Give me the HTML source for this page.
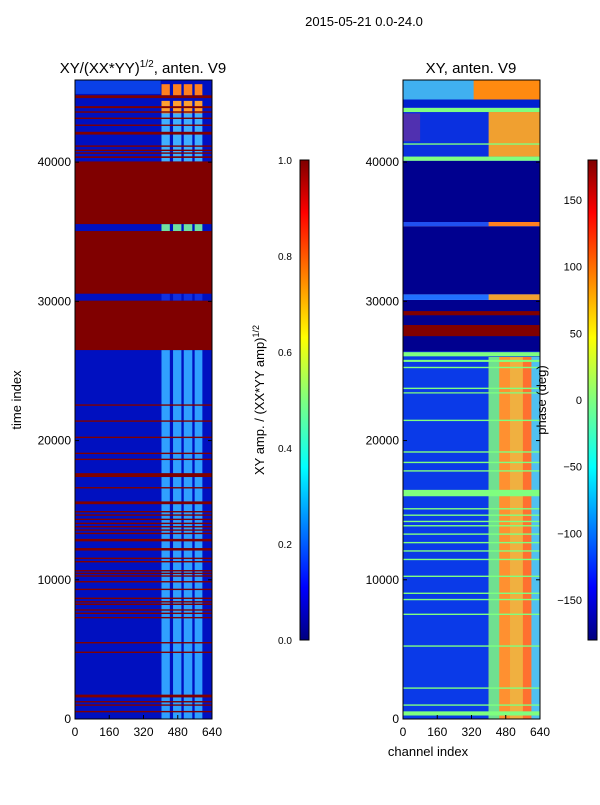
<!DOCTYPE html>
<html><head><meta charset="utf-8"><style>
body{margin:0;background:#fff;font-family:"Liberation Sans",sans-serif;}
svg text{font-family:"Liberation Sans",sans-serif;fill:#000;}
</style></head><body>
<svg id="fig" width="600" height="800" xmlns="http://www.w3.org/2000/svg">
<defs>
<linearGradient id="jet" x1="0" y1="1" x2="0" y2="0">
<stop offset="0" stop-color="#00007f"/><stop offset="0.11" stop-color="#0000ff"/>
<stop offset="0.36" stop-color="#00ffff"/><stop offset="0.5" stop-color="#7fff7f"/>
<stop offset="0.63" stop-color="#ffff00"/><stop offset="0.89" stop-color="#ff0000"/>
<stop offset="1" stop-color="#7f0000"/></linearGradient>
</defs>
<text x="364" y="26" font-size="13" text-anchor="middle">2015-05-21 0.0-24.0</text>
<text x="143" y="73" font-size="15" text-anchor="middle">XY/(XX*YY)<tspan font-size="10" dy="-6">1/2</tspan><tspan dy="6">, anten. V9</tspan></text>
<text x="471" y="73" font-size="15" text-anchor="middle">XY, anten. V9</text>
<g id="left"></g>
<g id="right"></g>
<g id="axes"></g>
<text transform="translate(21,400) rotate(-90)" font-size="13" text-anchor="middle">time index</text>
<text x="428" y="756" font-size="13" text-anchor="middle">channel index</text>
<text transform="translate(264,400) rotate(-90)" font-size="13" text-anchor="middle">XY amp. / (XX*YY amp)<tspan font-size="9" dy="-5">1/2</tspan></text>
<text transform="translate(546,400) rotate(-90)" font-size="13" text-anchor="middle">phase (deg)</text>
<rect x="300" y="160" width="9" height="480" fill="url(#jet)" stroke="#000"/>
<rect x="588" y="160" width="9" height="480" fill="url(#jet)" stroke="#000"/>
<g id="cb"></g>
</svg>
<script>
const NS="http://www.w3.org/2000/svg";
const xTicks=[0,160,320,480,640];
const yTicks=[0,10000,20000,30000,40000];
const ampTicks=[0,0.2,0.4,0.6,0.8,1.0];
const phaseTicks=[-150,-100,-50,0,50,100,150];
const leftRed=[[26500,30050],[30550,35050],[35550,40050],[44600,44800],[43880,44020],[43550,43650],[43100,43200],[42600,42700],[41980,42180],[41100,41200],[40800,40900],[40600,40700],[40300,40420],
[22500,22600],[21350,21450],[20180,20280],[19030,19130],[18600,18700],[17380,17660],[16560,16660],[15430,15630],[14840,14940],[14600,14700],[14290,14390],[14000,14100],[13760,13860],[13520,13620],[13280,13380],[12760,12940],[12100,12280],[11490,11590],[11250,11350],[10600,10700],[10410,10510],[10220,10320],[9810,9910],[9260,9360],[8620,8720],[8370,8470],[8190,8290],[7780,7880],[7540,7640],[7230,7330],[5430,5530],[4740,4840],[1550,1750],[1190,1290],[950,1050],[480,580]];
const leftCols=[[404,443],[458,497],[508,548],[559,595]];
const leftSeg=[[0,26500,"#30a0ff"],[30050,30550,"#1030e0"],[35050,35550,"#70e0a0"],[40050,43500,"#40b0ff"],[43500,44400,"#ffa030"],[44800,45600,"#ff8020"]];
const rightBg=[[0,26400,"#0a3ae8"],[26400,30100,"#00008f"],[30100,30500,"#2070ff"],[30500,35400,"#00008f"],[35400,35700,"#2050f0"],[35700,40100,"#00008f"],[40100,43600,"#0a30e0"],[43600,43900,"#7fff7f"],[43900,44500,"#0020d0"],[44500,45900,"#40b0f0"]];
const rightBlk=[[400,640,0,26000,"#f0b040"],[400,450,0,26000,"#70e090"],[450,500,0,26000,"#ff9030"],[560,600,0,26000,"#ff7030"],[600,640,0,26000,"#50c0f0"],[330,640,44500,45900,"#ff8a10"],[400,640,40400,43600,"#f0a030"],[0,80,41500,43500,"#5030b0"],[400,640,35400,35700,"#ff8020"],[400,640,30100,30500,"#f0a030"]];
const rightRed=[[29000,29300],[27500,28300]];
const rightGreen=[[25650,25800],[25200,25300],[23700,23800],[23380,23470],[21400,21500],[19130,19230],[18380,18480],[17770,17870],[16000,16460],[15050,15150],[14590,14690],[14140,14240],[13830,13930],[13230,13330],[12620,12720],[12020,12120],[11410,11510],[10200,10300],[8980,9080],[8530,8630],[7470,7570],[5190,5290],[2170,2270],[950,1050],[250,550],[26050,26350],[40100,40400],[41250,41350]];
const T0=0,T1=45900,yTop=80,yBot=719;
function y(t){return yBot-(t-T0)/(T1-T0)*(yBot-yTop);}
function xL(c){return 75+c/640*137;}
function xR(c){return 403+c/640*137;}
function rect(g,x0,x1,t0,t1,col,name){const r=document.createElementNS(NS,"rect");
r.setAttribute("x",x0);r.setAttribute("width",x1-x0);r.setAttribute("y",y(t1));r.setAttribute("height",Math.max(1,y(t0)-y(t1)));r.setAttribute("fill",col);


g.appendChild(r);}
const L=document.getElementById("left"),R=document.getElementById("right");
rect(L,xL(0),xL(640),0,45900,"#0010c0","left-background");
leftSeg.forEach(s=>leftCols.forEach(c=>rect(L,xL(c[0]),xL(c[1]),s[0],s[1],s[2],"bright-cell")));
rect(L,xL(0),xL(400),44900,45900,"#0a40e8","left-top-row");
leftRed.forEach(b=>rect(L,xL(0),xL(640),b[0],b[1],"#800000","red-band"));
rightBg.forEach(b=>rect(R,xR(0),xR(640),b[0],b[1],b[2],"bg-band"));
rightBlk.forEach(b=>rect(R,xR(b[0]),xR(b[1]),b[2],b[3],b[4],"bright-block"));
rightRed.forEach(b=>rect(R,xR(0),xR(640),b[0],b[1],"#800000","red-band"));
rightGreen.forEach(b=>rect(R,xR(0),xR(640),b[0],b[1],"#7fff7f","green-band"));
const A=document.getElementById("axes");
function el(tag,at,txt,name){const e=document.createElementNS(NS,tag);for(const k in at)e.setAttribute(k,at[k]);if(txt!==undefined)e.textContent=txt;


A.appendChild(e);return e;}
[[xL,75,"left"],[xR,403,"right"]].forEach(([fx,x0,p])=>{
el("rect",{x:x0,y:yTop,width:137,height:yBot-yTop,fill:"none",stroke:"#000"},undefined,p+"-frame");
xTicks.forEach(c=>{el("line",{x1:fx(c),x2:fx(c),y1:yBot,y2:yBot-4,stroke:"#000"},undefined,"x-tick");
el("text",{x:fx(c),y:yBot+17,"font-size":"12","text-anchor":"middle"},c,"x-tick-label");});
yTicks.forEach(t=>{el("line",{x1:x0,x2:x0+4,y1:y(t),y2:y(t),stroke:"#000"},undefined,"y-tick");
el("line",{x1:x0+133,x2:x0+137,y1:y(t),y2:y(t),stroke:"#000"},undefined,"y-tick");
el("text",{x:x0-4,y:y(t)+4,"font-size":"12","text-anchor":"end"},t,"y-tick-label");});
});
ampTicks.forEach(v=>{const yy=640-v*480;el("text",{x:278,y:yy+4,"font-size":"10"},v.toFixed(1),"amp-tick-label");
el("line",{x1:305,x2:309,y1:yy,y2:yy,stroke:"#000"},undefined,"amp-tick");});
phaseTicks.forEach(v=>{const yy=640-(v+180)/360*480;el("text",{x:582,y:yy+4,"font-size":"11","text-anchor":"end"},v<0?"\u2212"+(-v):v,"phase-tick-label");
el("line",{x1:593,x2:597,y1:yy,y2:yy,stroke:"#000"},undefined,"phase-tick");});
</script>
</body></html>
